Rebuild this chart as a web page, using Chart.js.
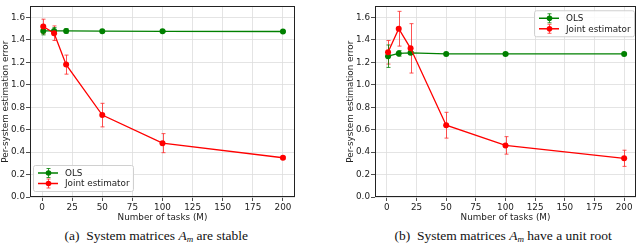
<!DOCTYPE html>
<html>
<head>
<meta charset="utf-8">
<script src="https://cdn.jsdelivr.net/npm/chart.js@4"></script>
<style>
    body { margin: 0; background: #fff; width: 640px; height: 249px; position: relative; overflow: hidden; }
    .panel { position: absolute; top: 0; width: 320px; height: 225px; }
    .caption { position: absolute; top: 228px; font-family: "Liberation Serif", "DejaVu Serif", serif; font-size: 13.5px; color: #111; white-space: nowrap; }
    .caption i { font-style: italic; }
    .caption sub { font-style: italic; font-size: 9px; vertical-align: -2px; }
</style>
</head>
<body>
<div class="panel" style="left:0"><canvas id="chart-stable" width="320" height="225"></canvas></div>
<div class="panel" style="left:320px"><canvas id="chart-root" width="320" height="225"></canvas></div>
<div class="caption" id="cap-a">(a)&nbsp; System matrices <i>A</i><sub>m</sub> are stable</div>
<div class="caption" id="cap-b">(b)&nbsp; System matrices <i>A</i><sub>m</sub> have a unit root</div>
<script>
// number of tasks M
const tasks = [1, 10, 20, 50, 100, 200];
const xTicks = [0, 25, 50, 75, 100, 125, 150, 175, 200];
const yTicks = [0.0, 0.2, 0.4, 0.6, 0.8, 1.0, 1.2, 1.4, 1.6];

// (a) stable
const olsStable = [1.48, 1.48, 1.48, 1.478, 1.477, 1.475];
const olsStableErr = [0.035, 0.03, 0.02, 0.008, 0.008, 0.008];
const jointStable = [1.52, 1.46, 1.18, 0.73, 0.48, 0.35];
const jointStableErr = [0.065, 0.065, 0.085, 0.105, 0.085, 0.012];

// (b) unit root
const olsRoot = [1.255, 1.28, 1.285, 1.275, 1.275, 1.275];
const olsRootErr = [0.1, 0.025, 0.012, 0.008, 0.008, 0.008];
const jointRoot = [1.29, 1.50, 1.325, 0.64, 0.46, 0.345];
const jointRootErr = [0.105, 0.155, 0.22, 0.115, 0.078, 0.072];

const FONT = { family: '"DejaVu Sans", sans-serif', size: 8.8 };
const GREEN = '#008000';
const RED = '#ff0000';

// error bars + frame + legend, drawn with the chart's own scales
const extrasPlugin = {
    id: 'extras',
    beforeDatasetsDraw(chart) {
        const ctx = chart.ctx;
        const xs = chart.scales.x, ys = chart.scales.y;
        ctx.save();
        chart.data.datasets.forEach(ds => {
            ctx.strokeStyle = ds.errColor;
            ctx.lineWidth = 1;
            ds.data.forEach((pt, i) => {
                const px = Math.round(xs.getPixelForValue(pt.x)) + 0.5;
                const top = ys.getPixelForValue(pt.y + ds.err[i]);
                const bot = ys.getPixelForValue(pt.y - ds.err[i]);
                ctx.beginPath();
                ctx.moveTo(px, top); ctx.lineTo(px, bot);
                ctx.moveTo(px - 2, top); ctx.lineTo(px + 2, top);
                ctx.moveTo(px - 2, bot); ctx.lineTo(px + 2, bot);
                ctx.stroke();
            });
        });
        ctx.restore();
    },
    afterDraw(chart, args, opts) {
        const ctx = chart.ctx;
        const a = chart.chartArea;
        ctx.save();
        ctx.strokeStyle = '#222';
        ctx.lineWidth = 1;
        ctx.strokeRect(Math.round(a.left) + 0.5, Math.round(a.top) + 0.5,
            Math.round(a.right - a.left) - 1, Math.round(a.bottom - a.top) - 1);

        // legend
        const w = 100, h = 26;
        const bx = opts.corner === 'lower left' ? a.left + 3 : a.right - w - 2;
        const by = opts.corner === 'lower left' ? a.bottom - h - 6 : a.top + 4;
        ctx.fillStyle = 'rgba(255,255,255,0.85)';
        ctx.strokeStyle = '#d0d0d0';
        ctx.beginPath();
        ctx.roundRect(bx + 0.5, by + 0.5, w, h, 2);
        ctx.fill(); ctx.stroke();
        const order = [1, 0];
        order.forEach((di, k) => {
            const ds = chart.data.datasets[di];
            const cy = by + 8 + k * 10.5;
            const lx = bx + 5;
            ctx.strokeStyle = ds.borderColor;
            ctx.lineWidth = 1.5;
            ctx.beginPath(); ctx.moveTo(lx, cy); ctx.lineTo(lx + 20, cy); ctx.stroke();
            ctx.strokeStyle = ds.errColor;
            ctx.lineWidth = 1;
            ctx.beginPath();
            ctx.moveTo(lx + 10.5, cy - 4.5); ctx.lineTo(lx + 10.5, cy + 4.5);
            ctx.moveTo(lx + 8.5, cy - 4.5); ctx.lineTo(lx + 12.5, cy - 4.5);
            ctx.moveTo(lx + 8.5, cy + 4.5); ctx.lineTo(lx + 12.5, cy + 4.5);
            ctx.stroke();
            ctx.fillStyle = ds.borderColor;
            ctx.beginPath(); ctx.arc(lx + 10.5, cy, 2.8, 0, Math.PI * 2); ctx.fill();
            ctx.fillStyle = '#222';
            ctx.font = `${FONT.size}px ${FONT.family}`;
            ctx.textBaseline = 'middle';
            ctx.fillText(ds.label, lx + 27, cy + 0.5);
        });
        ctx.restore();
    }
};

function makeChart(canvasId, ols, olsErr, joint, jointErr, padLeft, padRight, corner) {
    return new Chart(document.getElementById(canvasId), {
        type: 'line',
        data: {
            datasets: [
                {
                    label: 'Joint estimator',
                    data: joint,
                    err: jointErr,
                    borderColor: RED,
                    backgroundColor: RED,
                    errColor: 'rgba(255,40,40,0.8)',
                    borderWidth: 1.3,
                    pointRadius: 3,
                    pointBorderWidth: 0,
                    order: 0
                },
                {
                    label: 'OLS',
                    data: ols,
                    err: olsErr,
                    borderColor: GREEN,
                    backgroundColor: GREEN,
                    errColor: 'rgba(0,128,0,0.8)',
                    borderWidth: 1.3,
                    pointRadius: 3,
                    pointBorderWidth: 0,
                    order: 1
                }
            ].map(ds => ({ ...ds, data: ds.data.map((v, i) => ({ x: tasks[i], y: v })) }))
        },
        options: {
            responsive: false,
            animation: false,
            layout: { padding: { left: padLeft, right: padRight, top: 0, bottom: 0 } },
            plugins: {
                legend: { display: false },
                tooltip: { enabled: false },
                extras: { corner: corner }
            },
            scales: {
                x: {
                    type: 'linear',
                    min: -10,
                    max: 210,
                    afterBuildTicks: s => { s.ticks = xTicks.map(v => ({ value: v })); },
                    afterFit: s => { s.height = 28; },
                    ticks: { font: FONT, color: '#222', padding: 1, maxRotation: 0 },
                    grid: { color: '#dddddd', tickColor: '#222', tickLength: 4, lineWidth: 0.8 },
                    border: { display: false },
                    title: { display: true, text: 'Number of tasks (M)', font: FONT, color: '#222', padding: { top: 0, bottom: 2 } }
                },
                y: {
                    min: 0,
                    max: 1.7,
                    afterBuildTicks: s => { s.ticks = yTicks.map(v => ({ value: v })); },
                    afterFit: s => { s.width = 30; },
                    ticks: { font: FONT, color: '#222', padding: 1, callback: v => v.toFixed(1) },
                    grid: { color: '#dddddd', tickColor: '#222', tickLength: 4, lineWidth: 0.8 },
                    border: { display: false },
                    title: { display: true, text: 'Per-system estimation error', font: FONT, color: '#222', padding: { top: 0, bottom: 0 } }
                }
            }
        },
        plugins: [extrasPlugin]
    });
}

makeChart('chart-stable', olsStable, olsStableErr, jointStable, jointStableErr, 0, 25, 'lower left');
makeChart('chart-root', olsRoot, olsRootErr, jointRoot, jointRootErr, 25, 2, 'upper right');

// centre the captions under each plot
function place(id, centre) {
    const el = document.getElementById(id);
    el.style.left = (centre - el.offsetWidth / 2) + 'px';
}
place('cap-a', 156);
place('cap-b', 503);
</script>
</body>
</html>
